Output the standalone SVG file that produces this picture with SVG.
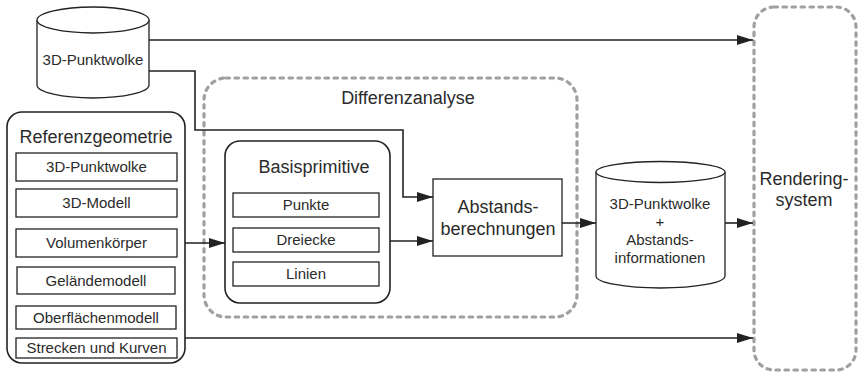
<svg xmlns="http://www.w3.org/2000/svg" width="858" height="373" viewBox="0 0 858 373">
<defs>
<style>
text{font-family:"Liberation Sans",Arial,sans-serif;fill:#2b2b2b;text-anchor:middle}
.s15{font-size:15px}
.s18{font-size:18px}
.box{fill:#fff;stroke:#222;stroke-width:1.3}
.rbox{fill:#fff;stroke:#222;stroke-width:1.6}
.dash{fill:none;stroke:#a0a0a0;stroke-width:3.2;stroke-dasharray:3.5 5.5;stroke-linecap:round}
.con{fill:none;stroke:#222;stroke-width:1.6}
</style>
<marker id="arr" markerUnits="userSpaceOnUse" markerWidth="17" markerHeight="12" refX="16" refY="6" orient="auto">
<path d="M0,1 L16,6 L0,11 Z" fill="#222"/>
</marker>
</defs>
<g id="rendering">
<rect class="dash" x="754" y="7" width="102" height="363" rx="20"/>
<text class="s18" x="804" y="185">Rendering-</text>
<text class="s18" x="804" y="206">system</text>
</g>
<g id="differenzanalyse">
<rect class="dash" x="204" y="78" width="373" height="239" rx="22"/>
<text class="s18" x="408" y="104">Differenzanalyse</text>
</g>
<g id="connectors">
<path class="con" d="M149,40 H753" marker-end="url(#arr)"/>
<path class="con" d="M149,71 H195 V130 H403 V197 H433" marker-end="url(#arr)"/>
<path class="con" d="M185,243 H225" marker-end="url(#arr)"/>
<path class="con" d="M390,241 H433" marker-end="url(#arr)"/>
<path class="con" d="M562,223 H596" marker-end="url(#arr)"/>
<path class="con" d="M725,223 H753" marker-end="url(#arr)"/>
<path class="con" d="M185,338 H753" marker-end="url(#arr)"/>
</g>
<g id="punktwolke">
<path class="box" d="M37,20 V85 A56,13 0 0 0 149,85 V20"/>
<ellipse class="box" cx="93" cy="20" rx="56" ry="13"/>
<text class="s15" x="93" y="65">3D-Punktwolke</text>
</g>
<g id="referenzgeometrie">
<rect class="rbox" x="7" y="112" width="178" height="251" rx="15"/>
<text class="s18" x="96" y="143">Referenzgeometrie</text>
<rect class="box" x="16" y="153" width="161" height="28"/>
<text class="s15" x="96.5" y="172">3D-Punktwolke</text>
<rect class="box" x="16" y="189" width="161" height="28"/>
<text class="s15" x="96.5" y="208">3D-Modell</text>
<rect class="box" x="16" y="229" width="161" height="28"/>
<text class="s15" x="96.5" y="248">Volumenkörper</text>
<rect class="box" x="17" y="267" width="158" height="27"/>
<text class="s15" x="96" y="286">Geländemodell</text>
<rect class="box" x="16" y="306" width="160" height="23"/>
<text class="s15" x="96" y="323">Oberflächenmodell</text>
<rect class="box" x="16" y="338" width="161" height="20"/>
<text class="s15" x="96.5" y="353">Strecken und Kurven</text>
</g>
<g id="basisprimitive">
<rect class="rbox" x="225" y="141" width="165" height="162" rx="15"/>
<text class="s18" x="314" y="173">Basisprimitive</text>
<rect class="box" x="233" y="193" width="146" height="24"/>
<text class="s15" x="306" y="210">Punkte</text>
<rect class="box" x="233" y="228" width="146" height="24"/>
<text class="s15" x="306" y="245">Dreiecke</text>
<rect class="box" x="233" y="262" width="146" height="24"/>
<text class="s15" x="306" y="279">Linien</text>
</g>
<g id="abstandsberechnungen">
<rect class="box" x="433" y="179" width="129" height="77"/>
<text class="s18" x="498" y="213">Abstands-</text>
<text class="s18" x="498" y="235">berechnungen</text>
</g>
<g id="ergebnis">
<path class="box" d="M596,172 V276 A64.5,12 0 0 0 725,276 V172"/>
<ellipse class="box" cx="660.5" cy="172" rx="64.5" ry="10.5"/>
<text class="s15" x="660" y="209">3D-Punktwolke</text>
<text class="s15" x="660" y="227">+</text>
<text class="s15" x="660" y="245">Abstands-</text>
<text class="s15" x="660" y="263">informationen</text>
</g>
</svg>
